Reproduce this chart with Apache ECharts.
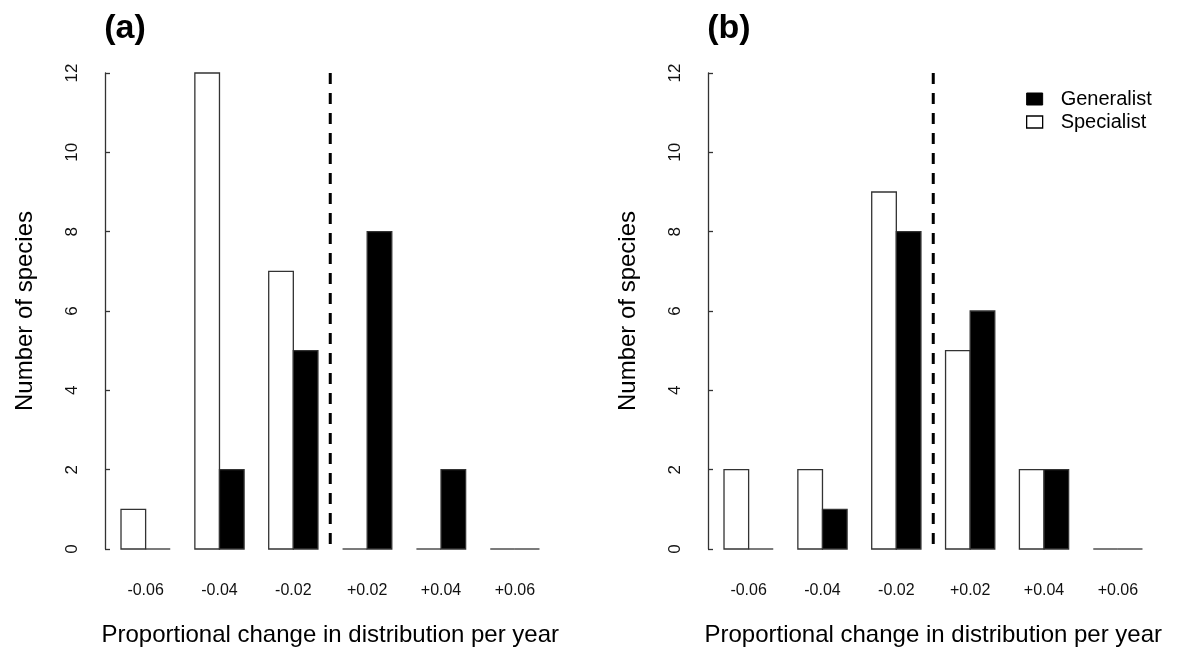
<!DOCTYPE html>
<html>
<head>
<meta charset="utf-8">
<script src="https://cdn.jsdelivr.net/npm/echarts@6/dist/echarts.min.js"></script>
<style>
  html, body { margin: 0; padding: 0; background: #fff; }
  #chart { width: 1177px; height: 655px; }
</style>
</head>
<body>
<div id="chart"></div>
<script>
// Bin labels (proportional change in distribution per year)
const categories = ['-0.06', '-0.04', '-0.02', '+0.02', '+0.04', '+0.06'];

// Panel (a): number of species per bin
const specialistA = [1, 12, 7, 0, 0, 0];
const generalistA = [0, 2, 5, 8, 2, 0];

// Panel (b): number of species per bin
const specialistB = [2, 2, 9, 5, 2, 0];
const generalistB = [0, 1, 8, 6, 2, 0];

// Y axis range and the bins the dashed zero line sits between
const yMin = 0, yMax = 12, yStep = 2;
const zeroBetween = ['-0.02', '+0.02'];

const panelLabels = ['(a)', '(b)'];
const xTitle = 'Proportional change in distribution per year';
const yTitle = 'Number of species';

const FONT = '"Liberation Sans", Arial, sans-serif';
const OUTLINE = '#333';

// side -1: left bar of the pair (Specialist), +1: right bar (Generalist)
function barRenderer(side, fill) {
  return function (params, api) {
    const cat = api.value(0);
    const val = api.value(1);
    const base = api.coord([cat, 0]);
    const top = api.coord([cat, val]);
    const w = api.size([1, 0])[0] / 3;
    const x = side < 0 ? base[0] - w : base[0];
    if (val === 0) {
      return {
        type: 'line',
        shape: { x1: x, y1: base[1], x2: x + w, y2: base[1] },
        style: { stroke: OUTLINE, lineWidth: 1.3 }
      };
    }
    return {
      type: 'rect',
      shape: { x: x, y: top[1], width: w, height: base[1] - top[1] },
      style: { fill: fill, stroke: OUTLINE, lineWidth: 1.3 }
    };
  };
}

// Dashed vertical line separating declines from increases
function zeroLineRenderer(params, api) {
  const a = api.coord([api.value(0), yMin]);
  const b = api.coord([api.value(1), yMin]);
  const t = api.coord([api.value(0), yMax]);
  const x = (a[0] + b[0]) / 2;
  return {
    type: 'line',
    shape: { x1: x, y1: t[1], x2: x, y2: a[1] },
    style: { stroke: '#000', lineWidth: 3, lineDash: [11, 9] }
  };
}

const pairs = arr => arr.map((v, i) => [i, v]);

const panels = [
  { spec: specialistA, gen: generalistA, left: 108.7 },
  { spec: specialistB, gen: generalistB, left: 711.7 }
];

const grid = [], xAxis = [], yAxis = [], series = [], title = [];

panels.forEach((p, k) => {
  grid.push({ left: p.left, top: 73, width: 443.1, height: 476 });
  title.push({
    text: panelLabels[k],
    left: p.left - 4.5,
    top: 12,
    padding: 0,
    textStyle: { fontFamily: FONT, fontSize: 34, fontWeight: 'bold', color: '#000' }
  });
  xAxis.push({
    type: 'category',
    gridIndex: k,
    data: categories,
    axisLine: { show: false },
    axisTick: { show: false },
    axisLabel: { margin: 34, fontFamily: FONT, fontSize: 16, color: '#111' },
    name: xTitle,
    nameLocation: 'middle',
    nameGap: 74,
    nameTextStyle: { fontFamily: FONT, fontSize: 24, color: '#000' }
  });
  yAxis.push({
    type: 'value',
    gridIndex: k,
    min: yMin,
    max: yMax,
    interval: yStep,
    offset: 3.7,
    splitLine: { show: false },
    axisLine: { show: true, lineStyle: { color: OUTLINE, width: 1.3 } },
    axisTick: { show: true, inside: true, length: 5, lineStyle: { color: OUTLINE, width: 1.3 } },
    axisLabel: { rotate: 90, margin: 24, fontFamily: FONT, fontSize: 17, color: '#111' },
    name: yTitle,
    nameLocation: 'middle',
    nameRotate: 90,
    nameGap: 68,
    nameTextStyle: { fontFamily: FONT, fontSize: 24, color: '#000' }
  });
  series.push({
    name: 'Specialist',
    type: 'custom',
    xAxisIndex: k, yAxisIndex: k,
    renderItem: barRenderer(-1, '#fff'),
    itemStyle: { color: '#fff', borderColor: '#000', borderWidth: 1 },
    encode: { x: 0, y: 1 },
    data: pairs(p.spec)
  });
  series.push({
    name: 'Generalist',
    type: 'custom',
    xAxisIndex: k, yAxisIndex: k,
    renderItem: barRenderer(1, '#000'),
    itemStyle: { color: '#000' },
    encode: { x: 0, y: 1 },
    data: pairs(p.gen)
  });
  series.push({
    type: 'custom',
    xAxisIndex: k, yAxisIndex: k,
    renderItem: zeroLineRenderer,
    silent: true,
    data: [[categories.indexOf(zeroBetween[0]), categories.indexOf(zeroBetween[1])]]
  });
});

const chart = echarts.init(document.getElementById('chart'), null, { renderer: 'canvas' });
chart.setOption({
  animation: false,
  backgroundColor: '#fff',
  title: title,
  grid: grid,
  xAxis: xAxis,
  yAxis: yAxis,
  legend: {
    orient: 'vertical',
    left: 1026,
    top: 89,
    padding: 0,
    icon: 'rect',
    itemWidth: 16,
    itemHeight: 12,
    itemGap: 3,
    selectedMode: false,
    textStyle: { fontFamily: FONT, fontSize: 20, color: '#000', padding: [0, 0, 0, 13] },
    data: [
      { name: 'Generalist', itemStyle: { color: '#000', borderColor: '#000', borderWidth: 1 } },
      { name: 'Specialist', itemStyle: { color: '#fff', borderColor: '#000', borderWidth: 1.3 } }
    ]
  },
  series: series
});
</script>
</body>
</html>
